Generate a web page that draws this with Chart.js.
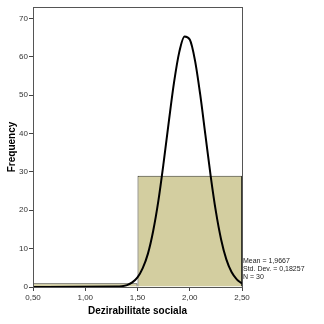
<!DOCTYPE html>
<html>
<head>
<meta charset="utf-8">
<script src="https://cdn.jsdelivr.net/npm/chart.js@4.4.1/dist/chart.umd.min.js"></script>
<style>
  html, body { margin: 0; padding: 0; background: #ffffff; }
  #wrap { width: 324px; height: 324px; }
</style>
</head>
<body>
<div id="wrap"><canvas id="hist" width="324" height="324"></canvas></div>
<script>
// histogram bins (bin centre, count)
const binCenters = [1.0, 2.0];
const binCounts = [1, 29];

// normal curve, values
const curveX = [0.50, 1.30, 1.35, 1.40, 1.45, 1.50, 1.55, 1.60, 1.65, 1.70, 1.75, 1.80, 1.85, 1.90,
                1.95, 2.00, 2.05, 2.10, 2.15, 2.20, 2.25, 2.30, 2.35, 2.40, 2.45, 2.50];
const curveY = [0.0, 0.1, 0.2, 0.5, 1.2, 2.5, 4.9, 8.7, 14.6, 22.5, 32.4, 43.2, 53.4, 61.3,
                65.3, 64.5, 59.1, 50.2, 39.6, 29.0, 19.7, 12.4, 7.2, 3.9, 2.0, 0.9];

const xTicks = [0.5, 1.0, 1.5, 2.0, 2.5];
const yTicks = [0, 10, 20, 30, 40, 50, 60, 70];

const statsLines = ['Mean = 1,9667', 'Std. Dev. = 0,18257', 'N = 30'];

const tickFont = { family: 'Liberation Sans, Arial, sans-serif', size: 8 };
const titleFont = { family: 'Liberation Sans, Arial, sans-serif', size: 10, weight: 'bold' };

const frameAndStats = {
    id: 'frameAndStats',
    afterDatasetsDraw(chart) {
        const { ctx, chartArea } = chart;
        ctx.save();
        ctx.strokeStyle = '#555555';
        ctx.lineWidth = 1;
        ctx.strokeRect(chartArea.left + 0.5, chartArea.top + 0.5,
                       chartArea.right - chartArea.left, chartArea.bottom - chartArea.top);
        ctx.fillStyle = '#222222';
        ctx.font = '7px Liberation Sans, Arial, sans-serif';
        ctx.textBaseline = 'middle';
        ctx.textAlign = 'left';
        statsLines.forEach((t, i) => {
            ctx.fillText(t, chartArea.right + 1, 261 + i * 8);
        });
        ctx.restore();
    }
};

new Chart(document.getElementById('hist').getContext('2d'), {
    data: {
        datasets: [
            {
                type: 'line',
                data: curveX.map((x, i) => ({ x, y: curveY[i] })),
                borderColor: '#000000',
                borderWidth: 2,
                pointRadius: 0,
                cubicInterpolationMode: 'monotone',
                fill: false,
                order: 0
            },
            {
                type: 'bar',
                data: binCenters.map((x, i) => ({ x, y: binCounts[i] })),
                backgroundColor: '#d3cea0',
                borderColor: '#3a3a2c',
                borderWidth: 1,
                // ticks every 0.5 make the ruler half a bin wide
                barPercentage: 2,
                categoryPercentage: 1,
                order: 1
            }
        ]
    },
    options: {
        responsive: false,
        animation: false,
        layout: { padding: { left: 6, right: 82, top: 7, bottom: 7 } },
        plugins: { legend: { display: false }, tooltip: { enabled: false } },
        scales: {
            x: {
                type: 'linear',
                min: 0.5,
                max: 2.5,
                offset: false,
                afterBuildTicks: scale => { scale.ticks = xTicks.map(v => ({ value: v })); },
                afterFit: scale => { scale.height = 30; },
                ticks: {
                    font: tickFont,
                    color: '#333333',
                    padding: 2,
                    maxRotation: 0,
                    callback: v => v.toFixed(2).replace('.', ',')
                },
                grid: { drawOnChartArea: false, drawTicks: true, tickLength: 4, color: '#444444', offset: false },
                border: { display: true, color: '#555555' },
                title: { display: true, text: 'Dezirabilitate sociala', font: titleFont, color: '#000000', padding: { top: 1, bottom: 0 } }
            },
            y: {
                type: 'linear',
                min: 0,
                max: 73,
                afterBuildTicks: scale => { scale.ticks = yTicks.map(v => ({ value: v })); },
                afterFit: scale => { scale.width = 27; },
                ticks: { font: tickFont, color: '#333333', padding: 1 },
                grid: { drawOnChartArea: false, drawTicks: true, tickLength: 4, color: '#444444' },
                border: { display: true, color: '#555555' },
                title: { display: true, text: 'Frequency', font: titleFont, color: '#000000', padding: { top: 0, bottom: 0 } }
            }
        }
    },
    plugins: [frameAndStats]
});
</script>
</body>
</html>
